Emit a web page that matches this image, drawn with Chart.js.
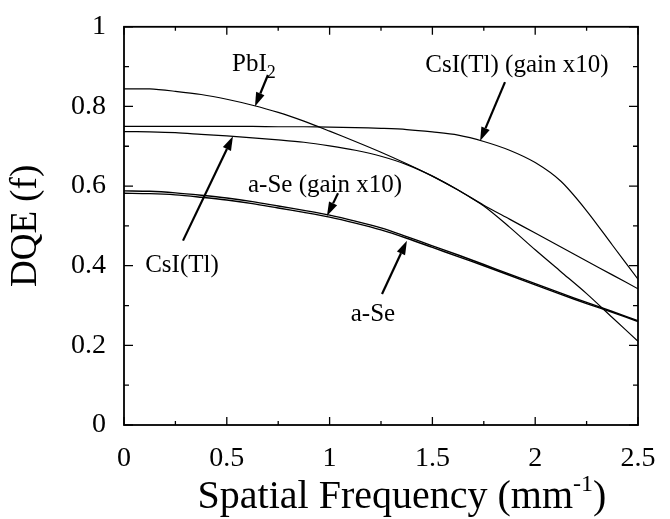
<!DOCTYPE html>
<html>
<head>
<meta charset="utf-8">
<script src="https://cdn.jsdelivr.net/npm/chart.js@4/dist/chart.umd.min.js"></script>
<style>
  html, body { margin: 0; padding: 0; background: #fff; }
  #wrap { width: 670px; height: 519px; }
</style>
</head>
<body>
<div id="wrap"><canvas id="c" width="670" height="519"></canvas></div>
<script>
// spatial frequency grid (mm^-1)
const freq = [0, 0.125, 0.25, 0.375, 0.5, 0.625, 0.75, 0.875, 1.0, 1.125, 1.25, 1.375, 1.5, 1.625, 1.75, 1.875, 2.0, 2.125, 2.25, 2.375, 2.5];

// DQE values
const dqePbI2     = [0.844, 0.844, 0.838, 0.830, 0.818, 0.803, 0.785, 0.763, 0.738, 0.712, 0.685, 0.656, 0.625, 0.590, 0.550, 0.497, 0.440, 0.385, 0.330, 0.270, 0.210];
const dqeCsIGain  = [0.750, 0.750, 0.750, 0.750, 0.750, 0.750, 0.749, 0.749, 0.748, 0.747, 0.745, 0.742, 0.736, 0.728, 0.712, 0.690, 0.659, 0.612, 0.538, 0.452, 0.366];
const dqeCsI      = [0.737, 0.736, 0.734, 0.730, 0.726, 0.721, 0.716, 0.710, 0.701, 0.690, 0.675, 0.654, 0.625, 0.590, 0.552, 0.517, 0.482, 0.447, 0.412, 0.377, 0.342];
const dqeASeGain  = [0.588, 0.587, 0.583, 0.577, 0.570, 0.561, 0.550, 0.539, 0.527, 0.512, 0.495, 0.473, 0.450, 0.427, 0.403, 0.379, 0.355, 0.331, 0.308, 0.285, 0.262];
const dqeASe      = [0.582, 0.581, 0.578, 0.572, 0.565, 0.556, 0.545, 0.534, 0.522, 0.507, 0.490, 0.469, 0.446, 0.423, 0.400, 0.376, 0.352, 0.328, 0.305, 0.283, 0.260];

const xTicks = [0, 0.5, 1, 1.5, 2, 2.5];
const yTicks = [0, 0.2, 0.4, 0.6, 0.8, 1];

// annotation labels: text, position (data units), arrow from/to (data units)
const notes = [
  { text: 'PbI', sub: '2', at: [0.632, 0.905], from: [0.700, 0.879], to: [0.637, 0.800] },
  { text: 'CsI(Tl) (gain x10)', at: [1.911, 0.903], from: [1.853, 0.861], to: [1.732, 0.713] },
  { text: 'a-Se (gain x10)', at: [0.978, 0.601], from: [1.041, 0.582], to: [0.987, 0.525] },
  { text: 'CsI(Tl)', at: [0.282, 0.401], from: [0.287, 0.463], to: [0.530, 0.725] },
  { text: 'a-Se', at: [1.211, 0.277], from: [1.255, 0.329], to: [1.376, 0.463] }
];

const serif = '"Liberation Serif", "DejaVu Serif", serif';

function pts(ys) { return freq.map((f, i) => ({ x: f, y: ys[i] })); }

function line(label, ys, w) {
  return {
    label: label,
    data: pts(ys),
    borderColor: '#000',
    borderWidth: w || 1.2,
    pointRadius: 0,
    tension: 0.3,
    fill: false
  };
}

// frame, inward ticks on all four sides, plus arrows + labels
const framePlugin = {
  id: 'frame',
  afterDatasetsDraw(chart) {
    const ctx = chart.ctx;
    const a = chart.chartArea;
    const xs = chart.scales.x, ys = chart.scales.y;
    ctx.save();
    ctx.strokeStyle = '#000';
    ctx.lineWidth = 1.8;
    ctx.strokeRect(a.left, a.top, a.right - a.left, a.bottom - a.top);

    ctx.lineWidth = 1.3;
    ctx.beginPath();
    for (let v = 0; v <= 2.5001; v += 0.25) {
      const px = xs.getPixelForValue(v);
      const len = (Math.round(v * 4) % 2 === 0) ? 8 : 4;
      ctx.moveTo(px, a.bottom); ctx.lineTo(px, a.bottom - len);
      ctx.moveTo(px, a.top); ctx.lineTo(px, a.top + len);
    }
    for (let v = 0; v <= 1.0001; v += 0.1) {
      const py = ys.getPixelForValue(v);
      const len = (Math.round(v * 10) % 2 === 0) ? 9 : 5;
      ctx.moveTo(a.left, py); ctx.lineTo(a.left + len, py);
      ctx.moveTo(a.right, py); ctx.lineTo(a.right - len, py);
    }
    ctx.stroke();

    // arrows
    notes.forEach(n => {
      const x0 = xs.getPixelForValue(n.from[0]), y0 = ys.getPixelForValue(n.from[1]);
      const x1 = xs.getPixelForValue(n.to[0]), y1 = ys.getPixelForValue(n.to[1]);
      const ang = Math.atan2(y1 - y0, x1 - x0);
      const hl = 14, hw = 4.5;
      const bx = x1 - hl * Math.cos(ang), by = y1 - hl * Math.sin(ang);
      ctx.lineWidth = 2.2;
      ctx.beginPath();
      ctx.moveTo(x0, y0); ctx.lineTo(bx, by);
      ctx.stroke();
      ctx.fillStyle = '#000';
      ctx.beginPath();
      ctx.moveTo(x1, y1);
      ctx.lineTo(bx + hw * Math.sin(ang), by - hw * Math.cos(ang));
      ctx.lineTo(bx - hw * Math.sin(ang), by + hw * Math.cos(ang));
      ctx.closePath();
      ctx.fill();
    });

    // labels
    ctx.fillStyle = '#000';
    ctx.textBaseline = 'middle';
    notes.forEach(n => {
      const px = xs.getPixelForValue(n.at[0]), py = ys.getPixelForValue(n.at[1]);
      ctx.font = '25px ' + serif;
      const w = ctx.measureText(n.text).width;
      let sw = 0;
      if (n.sub) { ctx.font = '18px ' + serif; sw = ctx.measureText(n.sub).width; }
      const left = px - (w + sw) / 2;
      ctx.font = '25px ' + serif;
      ctx.textAlign = 'left';
      ctx.fillText(n.text, left, py);
      if (n.sub) {
        ctx.font = '18px ' + serif;
        ctx.fillText(n.sub, left + w, py + 9);
      }
    });

    // x axis title with superscript
    ctx.textBaseline = 'alphabetic';
    const t1 = 'Spatial Frequency (mm', t2 = '-1', t3 = ')';
    ctx.font = '40px ' + serif;
    const w1 = ctx.measureText(t1).width, w3 = ctx.measureText(t3).width;
    ctx.font = '24px ' + serif;
    const w2 = ctx.measureText(t2).width;
    const cx = 402;
    const lx = cx - (w1 + w2 + w3) / 2;
    const base = 508;
    ctx.font = '40px ' + serif;
    ctx.fillText(t1, lx, base);
    ctx.font = '24px ' + serif;
    ctx.fillText(t2, lx + w1, base - 17);
    ctx.font = '40px ' + serif;
    ctx.fillText(t3, lx + w1 + w2, base);
    ctx.restore();
  }
};

new Chart(document.getElementById('c'), {
  type: 'line',
  data: {
    datasets: [
      line('PbI2', dqePbI2),
      line('CsI(Tl) (gain x10)', dqeCsIGain),
      line('CsI(Tl)', dqeCsI),
      line('a-Se (gain x10)', dqeASeGain, 1.4),
      line('a-Se', dqeASe, 1.4)
    ]
  },
  options: {
    responsive: false,
    animation: false,
    devicePixelRatio: 1,
    layout: { padding: { top: 21, right: 32, left: 0, bottom: 0 } },
    plugins: { legend: { display: false }, tooltip: { enabled: false } },
    scales: {
      x: {
        type: 'linear',
        min: 0, max: 2.5,
        grid: { display: false },
        border: { display: false },
        afterBuildTicks: s => { s.ticks = xTicks.map(v => ({ value: v })); },
        ticks: {
          color: '#000',
          font: { family: serif, size: 28 },
          padding: 9,
          maxRotation: 0,
          callback: v => String(+v.toFixed(1))
        },
        afterFit: s => { s.height = 94; }
      },
      y: {
        type: 'linear',
        min: 0, max: 1,
        grid: { display: false },
        border: { display: false },
        afterBuildTicks: s => { s.ticks = yTicks.map(v => ({ value: v })); },
        ticks: {
          color: '#000',
          font: { family: serif, size: 28 },
          padding: 10,
          callback: v => String(+v.toFixed(1))
        },
        title: {
          display: true,
          text: 'DQE (f)',
          color: '#000',
          font: { family: serif, size: 37 },
          padding: { top: 4, bottom: 0 }
        },
        afterFit: s => { s.width = 124; }
      }
    }
  },
  plugins: [framePlugin]
});
</script>
</body>
</html>
